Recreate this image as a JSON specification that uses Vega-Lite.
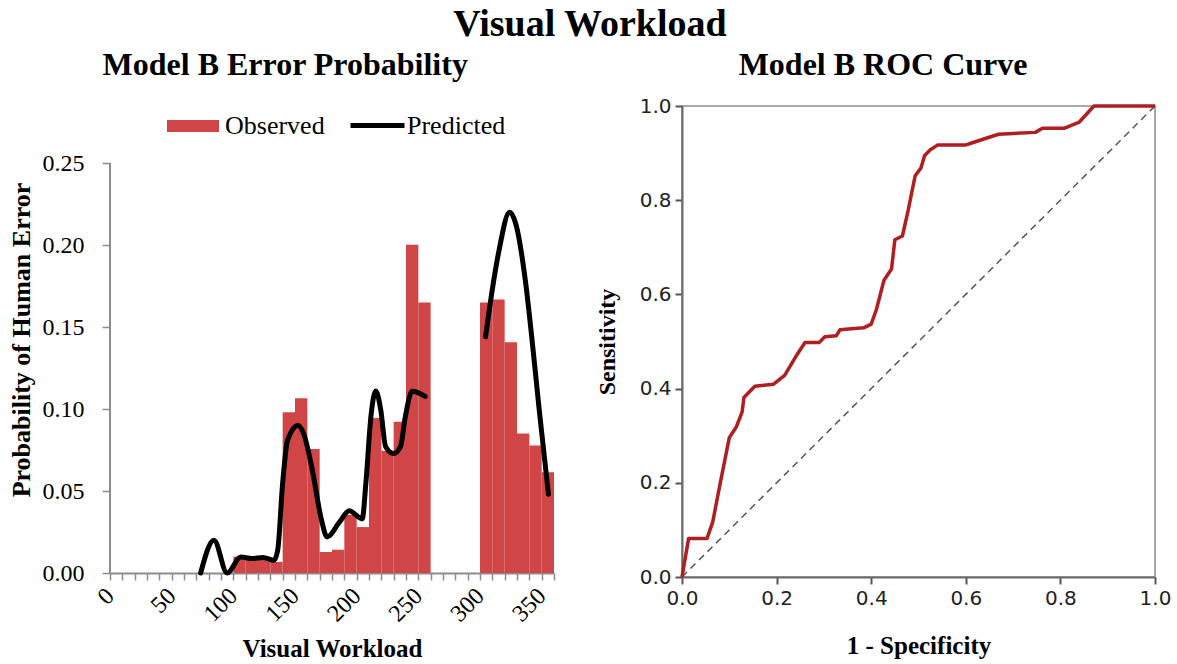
{
  "$schema": "https://vega.github.io/schema/vega-lite/v6.json",
  "background": "white",
  "padding": {"left": 8, "top": 6, "right": 5, "bottom": 0},
  "title": {"text": "Visual Workload", "font": "Liberation Serif", "fontSize": 38, "fontWeight": "bold", "color": "#000", "anchor": "middle", "offset": 4},
  "config": {
    "font": "Liberation Serif",
    "title": {"font": "Liberation Serif", "fontWeight": "bold", "color": "#000"}
  },
  "resolve": {"scale": {"fill": "independent", "stroke": "independent"}, "legend": {"fill": "independent", "stroke": "independent"}},
  "datasets": {
    "bars": [
      {"w": 100, "w2": 110, "p": 0.0100},
      {"w": 110, "w2": 120, "p": 0.0095},
      {"w": 120, "w2": 130, "p": 0.0095},
      {"w": 130, "w2": 140, "p": 0.0067},
      {"w": 140, "w2": 150, "p": 0.0980},
      {"w": 150, "w2": 160, "p": 0.1065},
      {"w": 160, "w2": 170, "p": 0.0756},
      {"w": 170, "w2": 180, "p": 0.0128},
      {"w": 180, "w2": 190, "p": 0.0142},
      {"w": 190, "w2": 200, "p": 0.0355},
      {"w": 200, "w2": 210, "p": 0.0280},
      {"w": 210, "w2": 220, "p": 0.0945},
      {"w": 220, "w2": 230, "p": 0.0746},
      {"w": 230, "w2": 240, "p": 0.0923},
      {"w": 240, "w2": 250, "p": 0.2002},
      {"w": 250, "w2": 260, "p": 0.1650},
      {"w": 300, "w2": 310, "p": 0.1650},
      {"w": 310, "w2": 320, "p": 0.1667},
      {"w": 320, "w2": 330, "p": 0.1407},
      {"w": 330, "w2": 340, "p": 0.0850},
      {"w": 340, "w2": 350, "p": 0.0778},
      {"w": 350, "w2": 360, "p": 0.0614}
    ],
    "pred": [
      {"seg": 1, "w": 73.5, "p": 0.000},
      {"seg": 1, "w": 84.3, "p": 0.020},
      {"seg": 1, "w": 95, "p": 0.000},
      {"seg": 1, "w": 106, "p": 0.0098},
      {"seg": 1, "w": 115, "p": 0.0088},
      {"seg": 1, "w": 124, "p": 0.0095},
      {"seg": 1, "w": 133, "p": 0.0078},
      {"seg": 1, "w": 136, "p": 0.014},
      {"seg": 1, "w": 140, "p": 0.055},
      {"seg": 1, "w": 144, "p": 0.081},
      {"seg": 1, "w": 152.5, "p": 0.090},
      {"seg": 1, "w": 157, "p": 0.085},
      {"seg": 1, "w": 164, "p": 0.063},
      {"seg": 1, "w": 171, "p": 0.034},
      {"seg": 1, "w": 176, "p": 0.022},
      {"seg": 1, "w": 186, "p": 0.031},
      {"seg": 1, "w": 194, "p": 0.038},
      {"seg": 1, "w": 204.5, "p": 0.033},
      {"seg": 1, "w": 207.5, "p": 0.055},
      {"seg": 1, "w": 211.5, "p": 0.095},
      {"seg": 1, "w": 215.5, "p": 0.111},
      {"seg": 1, "w": 219.5, "p": 0.0996},
      {"seg": 1, "w": 223.5, "p": 0.077},
      {"seg": 1, "w": 230, "p": 0.0728},
      {"seg": 1, "w": 235.5, "p": 0.077},
      {"seg": 1, "w": 239.5, "p": 0.0955},
      {"seg": 1, "w": 245, "p": 0.1108},
      {"seg": 1, "w": 255.5, "p": 0.1077},
      {"seg": 2, "w": 304.5, "p": 0.144},
      {"seg": 2, "w": 310, "p": 0.173},
      {"seg": 2, "w": 315.5, "p": 0.197},
      {"seg": 2, "w": 324, "p": 0.220},
      {"seg": 2, "w": 329, "p": 0.213},
      {"seg": 2, "w": 337, "p": 0.177},
      {"seg": 2, "w": 342.5, "p": 0.140},
      {"seg": 2, "w": 348, "p": 0.0996},
      {"seg": 2, "w": 355.5, "p": 0.048}
    ],
    "yline": [
      {"w": 0, "p": 0, "p2": 0.25}
    ],
    "roc": [
      {"fpr": 0.000, "tpr": 0.000},
      {"fpr": 0.014, "tpr": 0.082},
      {"fpr": 0.053, "tpr": 0.082},
      {"fpr": 0.065, "tpr": 0.117},
      {"fpr": 0.080, "tpr": 0.195},
      {"fpr": 0.100, "tpr": 0.296},
      {"fpr": 0.115, "tpr": 0.319},
      {"fpr": 0.127, "tpr": 0.350},
      {"fpr": 0.131, "tpr": 0.381},
      {"fpr": 0.154, "tpr": 0.405},
      {"fpr": 0.193, "tpr": 0.409},
      {"fpr": 0.217, "tpr": 0.428},
      {"fpr": 0.240, "tpr": 0.467},
      {"fpr": 0.260, "tpr": 0.498},
      {"fpr": 0.290, "tpr": 0.498},
      {"fpr": 0.302, "tpr": 0.510},
      {"fpr": 0.326, "tpr": 0.512},
      {"fpr": 0.334, "tpr": 0.525},
      {"fpr": 0.384, "tpr": 0.529},
      {"fpr": 0.400, "tpr": 0.537},
      {"fpr": 0.411, "tpr": 0.568},
      {"fpr": 0.427, "tpr": 0.630},
      {"fpr": 0.443, "tpr": 0.654},
      {"fpr": 0.450, "tpr": 0.716},
      {"fpr": 0.466, "tpr": 0.724},
      {"fpr": 0.478, "tpr": 0.778},
      {"fpr": 0.493, "tpr": 0.852},
      {"fpr": 0.505, "tpr": 0.868},
      {"fpr": 0.513, "tpr": 0.895},
      {"fpr": 0.525, "tpr": 0.907},
      {"fpr": 0.540, "tpr": 0.917},
      {"fpr": 0.599, "tpr": 0.917},
      {"fpr": 0.614, "tpr": 0.922},
      {"fpr": 0.638, "tpr": 0.930},
      {"fpr": 0.669, "tpr": 0.940},
      {"fpr": 0.747, "tpr": 0.944},
      {"fpr": 0.762, "tpr": 0.953},
      {"fpr": 0.809, "tpr": 0.953},
      {"fpr": 0.840, "tpr": 0.966},
      {"fpr": 0.871, "tpr": 1.000},
      {"fpr": 1.000, "tpr": 1.000}
    ],
    "diag": [
      {"fpr": 0, "tpr": 0},
      {"fpr": 1, "tpr": 1}
    ]
  },
  "spacing": 31,
  "hconcat": [
    {
      "title": {"text": "Model B Error Probability", "font": "Liberation Serif", "fontSize": 32, "fontWeight": "bold", "color": "#000", "anchor": "middle", "frame": "bounds", "offset": 14},
      "width": 444,
      "height": 467,
      "view": {"stroke": null},
      "encoding": {
        "x": {
          "field": "w", "type": "quantitative",
          "scale": {"domain": [0, 360], "nice": false},
          "axis": {
            "values": [0,10,20,30,40,50,60,70,80,90,100,110,120,130,140,150,160,170,180,190,200,210,220,230,240,250,260,270,280,290,300,310,320,330,340,350,360],
            "labelExpr": "datum.value % 50 === 0 ? datum.label : ''",
            "format": "d",
            "labelAngle": -45,
            "labelAlign": "right",
            "labelBaseline": "middle",
            "labelPadding": 12,
            "labelFlush": false,
            "labelOverlap": false,
            "labelFont": "Liberation Serif",
            "labelFontSize": 24,
            "labelColor": "#000",
            "grid": false,
            "domainColor": "#8c8c8c",
            "domainWidth": 2,
            "tickColor": "#8c8c8c",
            "tickWidth": 1.5,
            "tickSize": 7,
            "title": "Visual Workload",
            "titleFont": "Liberation Serif",
            "titleFontSize": 25,
            "titleFontWeight": "bold",
            "titleColor": "#000",
            "titlePadding": 11
          }
        },
        "y": {
          "field": "p", "type": "quantitative",
          "scale": {"domain": [0, 0.28476], "nice": false},
          "axis": {
            "values": [0, 0.05, 0.10, 0.15, 0.20, 0.25],
            "format": ".2f",
            "domain": false,
            "labelFont": "Liberation Serif",
            "labelFontSize": 24,
            "labelColor": "#000",
            "labelPadding": 18,
            "grid": false,
            "tickColor": "#8c8c8c",
            "tickWidth": 1.5,
            "tickSize": 8,
            "title": "Probability of Human Error",
            "titleFont": "Liberation Serif",
            "titleFontSize": 26,
            "titleFontWeight": "bold",
            "titleColor": "#000",
            "titlePadding": 8
          }
        }
      },
      "layer": [
        {
          "data": {"name": "yline"},
          "mark": {"type": "rule", "color": "#8c8c8c", "strokeWidth": 2},
          "encoding": {
            "y2": {"field": "p2"}
          }
        },
        {
          "data": {"name": "bars"},
          "mark": {"type": "bar", "opacity": 1},
          "encoding": {
            "x2": {"field": "w2"},
            "y2": {"datum": 0},
            "fill": {
              "datum": "Observed", "type": "nominal",
              "scale": {"domain": ["Observed"], "range": ["#d04545"]},
              "legend": {
                "title": null,
                "orient": "none",
                "legendX": 57,
                "legendY": -6,
                "padding": 0,
                "symbolType": "M-1,-0.23H1V0.23H-1Z",
                "symbolSize": 2704,
                "symbolStrokeWidth": 0,
                "symbolOpacity": 1,
                "labelFont": "Liberation Serif",
                "labelFontSize": 26,
                "labelColor": "#000",
                "labelOffset": 6
              }
            }
          }
        },
        {
          "data": {"name": "pred"},
          "mark": {"type": "line", "interpolate": "monotone", "strokeWidth": 5, "strokeCap": "round", "strokeJoin": "round"},
          "encoding": {
            "detail": {"field": "seg", "type": "nominal"},
            "stroke": {
              "datum": "Predicted", "type": "nominal",
              "scale": {"domain": ["Predicted"], "range": ["#000000"]},
              "legend": {
                "title": null,
                "orient": "none",
                "legendX": 238,
                "legendY": -10,
                "padding": 0,
                "symbolType": "stroke",
                "symbolSize": 2916,
                "symbolStrokeWidth": 5,
                "symbolOpacity": 1,
                "labelFont": "Liberation Serif",
                "labelFontSize": 26,
                "labelColor": "#000",
                "labelOffset": 0
              }
            }
          }
        }
      ]
    },
    {
      "title": {"text": "Model B ROC Curve", "font": "Liberation Serif", "fontSize": 32, "fontWeight": "bold", "color": "#000", "anchor": "middle", "frame": "bounds", "offset": 14},
      "width": 473,
      "height": 471,
      "view": {"stroke": "#a8a8a8", "strokeWidth": 2},
      "encoding": {
        "x": {
          "field": "fpr", "type": "quantitative",
          "scale": {"domain": [0, 1], "nice": false},
          "axis": {
            "values": [0, 0.2, 0.4, 0.6, 0.8, 1.0],
            "format": ".1f",
            "labelFont": "DejaVu Sans",
            "labelFontSize": 20,
            "labelColor": "#222",
            "labelPadding": 4,
            "labelFlush": false,
            "grid": false,
            "domainColor": "#6a6a6a",
            "domainWidth": 2,
            "tickColor": "#555",
            "tickWidth": 2,
            "tickSize": 7,
            "title": "1 - Specificity",
            "titleFont": "Liberation Serif",
            "titleFontSize": 25,
            "titleFontWeight": "bold",
            "titleColor": "#000",
            "titlePadding": 25
          }
        },
        "y": {
          "field": "tpr", "type": "quantitative",
          "scale": {"domain": [0, 1], "nice": false},
          "axis": {
            "values": [0, 0.2, 0.4, 0.6, 0.8, 1.0],
            "format": ".1f",
            "labelFont": "DejaVu Sans",
            "labelFontSize": 20,
            "labelColor": "#222",
            "labelPadding": 4,
            "labelFlush": false,
            "grid": false,
            "domainColor": "#6a6a6a",
            "domainWidth": 2,
            "tickColor": "#555",
            "tickWidth": 2,
            "tickSize": 7,
            "title": "Sensitivity",
            "titleFont": "Liberation Serif",
            "titleFontSize": 24,
            "titleFontWeight": "bold",
            "titleColor": "#000",
            "titlePadding": 20
          }
        }
      },
      "layer": [
        {
          "data": {"name": "diag"},
          "mark": {"type": "line", "color": "#555", "strokeWidth": 1.5, "strokeDash": [7, 5]}
        },
        {
          "data": {"name": "roc"},
          "mark": {"type": "line", "color": "#b01e22", "strokeWidth": 3.5, "strokeJoin": "round", "interpolate": "linear"}
        }
      ]
    }
  ]
}
